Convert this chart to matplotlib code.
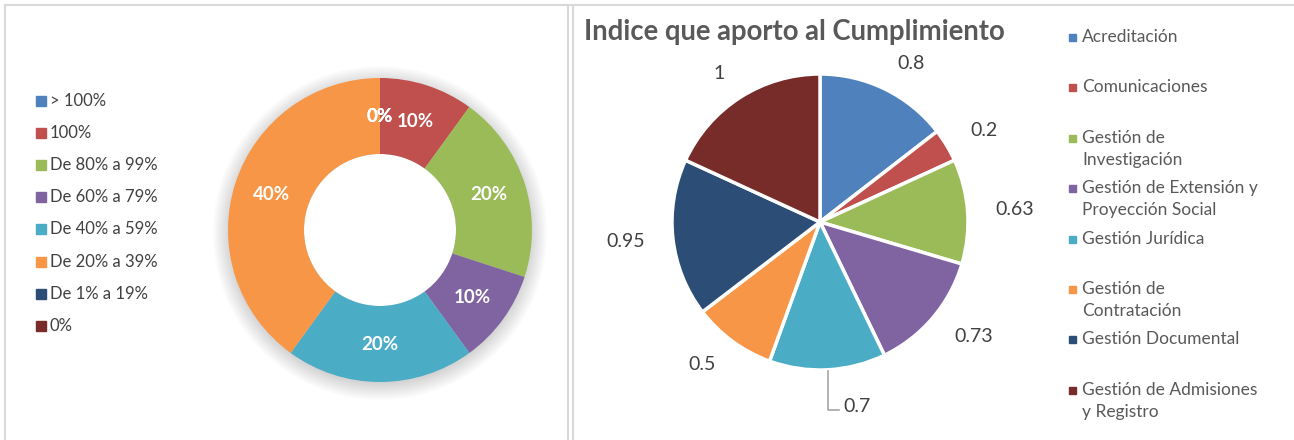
import matplotlib.pyplot as plt
from matplotlib.patches import Rectangle, Circle
from matplotlib.lines import Line2D
import numpy as np

plt.rcParams['font.family'] = ['Lato', 'DejaVu Sans']

# left chart: donut
donut_labels = ["> 100%", "100%", "De 80% a 99%", "De 60% a 79%",
                "De 40% a 59%", "De 20% a 39%", "De 1% a 19%", "0%"]
donut_values = [0, 10, 20, 10, 20, 40, 0, 0]

# right chart: pie
pie_labels = ["Acreditación", "Comunicaciones", "Gestión de\nInvestigación",
              "Gestión de Extensión y\nProyección Social", "Gestión Jurídica",
              "Gestión de\nContratación", "Gestión Documental",
              "Gestión de Admisiones\ny Registro"]
pie_values = [0.8, 0.2, 0.63, 0.73, 0.7, 0.5, 0.95, 1]

colors = ["#4F81BD", "#C0504D", "#9BBB59", "#8064A2",
          "#4BACC6", "#F79646", "#2C4D75", "#772C2A"]

W, H = 1294, 440
fig = plt.figure(figsize=(W / 100, H / 100), dpi=100)


def fx(px):
    return px / W


def fy(py):
    return 1 - py / H


# panel borders
border = "#D9D9D9"
fig.add_artist(Line2D([fx(5), fx(5)], [fy(5), 0], color=border, lw=1.5))
fig.add_artist(Line2D([fx(5), fx(1294)], [fy(5), fy(5)], color=border, lw=1.5))
fig.add_artist(Line2D([fx(568), fx(568)], [fy(5), 0], color=border, lw=1.5))
fig.add_artist(Line2D([fx(573), fx(573)], [fy(5), 0], color=border, lw=1.5))

# donut
r1, cx1, cy1 = 152, 380, 230
ax1 = fig.add_axes([fx(cx1 - 1.25 * r1), fy(cy1 + 1.25 * r1),
                    2.5 * r1 / W, 2.5 * r1 / H])
# soft shadow
for k in range(16):
    ax1.add_patch(Circle((0, -0.02), 0.98 + 0.008 * k, color="#000000",
                         alpha=0.012, lw=0, zorder=0))
ax1.add_patch(Circle((0, 0), 0.5, color="white", lw=0, zorder=0.5))
wedges, _ = ax1.pie(donut_values, colors=colors, startangle=90, counterclock=False,
                    radius=1, wedgeprops=dict(width=0.5, linewidth=0))
total1 = sum(donut_values)
angle = 90
for v in donut_values:
    span = v / total1 * 360
    mid = np.deg2rad(angle - span / 2)
    angle -= span
    ax1.text(0.75 * np.cos(mid), 0.75 * np.sin(mid), f"{v / total1:.0%}",
             ha='center', va='center', color='white', fontsize=13.5, fontweight='bold')
ax1.set_xlim(-1.25, 1.25)
ax1.set_ylim(-1.25, 1.25)
ax1.set_aspect('equal')
ax1.axis('off')

# donut legend
for i, (lab, c) in enumerate(zip(donut_labels, colors)):
    y = 101 + 32.1 * i
    fig.add_artist(Rectangle((fx(36), fy(y + 5)), 10 / W, 10 / H, color=c,
                             transform=fig.transFigure))
    fig.text(fx(50), fy(y), lab, ha='left', va='center', fontsize=12, color="#404040")

# pie
r2, cx2, cy2 = 148, 820, 222
ax2 = fig.add_axes([fx(cx2 - 1.25 * r2), fy(cy2 + 1.25 * r2),
                    2.5 * r2 / W, 2.5 * r2 / H])
wedges2, texts2 = ax2.pie(pie_values, colors=colors, startangle=90, counterclock=False,
                          radius=1, labels=[f"{v:g}" for v in pie_values],
                          labeldistance=1.19,
                          wedgeprops=dict(edgecolor='white', linewidth=2.5),
                          textprops=dict(fontsize=14, color="#404040"))
# leader line for the small label under the pie
w = wedges2[4]
mid = np.deg2rad((w.theta1 + w.theta2) / 2)
x0, y0 = np.cos(mid) * 1.0, np.sin(mid) * 1.0
ax2.plot([x0, x0, x0 + 0.08], [y0 - 0.01, y0 - 0.27, y0 - 0.27], color="#A6A6A6",
         lw=1.2, clip_on=False)
texts2[4].set_position((x0 + 0.11, y0 - 0.25))
texts2[4].set_ha('left')
texts2[4].set_va('center')
ax2.set_xlim(-1.25, 1.25)
ax2.set_ylim(-1.25, 1.25)
ax2.set_aspect('equal')
ax2.axis('off')

fig.text(fx(584), fy(32), "Indice que aporto al Cumplimiento", ha='left', va='center',
         fontsize=19.8, fontweight='bold', color="#595959")

# pie legend
for i, (lab, c) in enumerate(zip(pie_labels, colors)):
    y = 37 + 50.4 * i
    fig.add_artist(Rectangle((fx(1069), fy(y + 4)), 7 / W, 7 / H, color=c,
                             transform=fig.transFigure))
    fig.text(fx(1082), fy(y - 8), lab, ha='left', va='top', fontsize=12.5,
             color="#595959", linespacing=1.45)

fig.savefig("out.png", dpi=100)
